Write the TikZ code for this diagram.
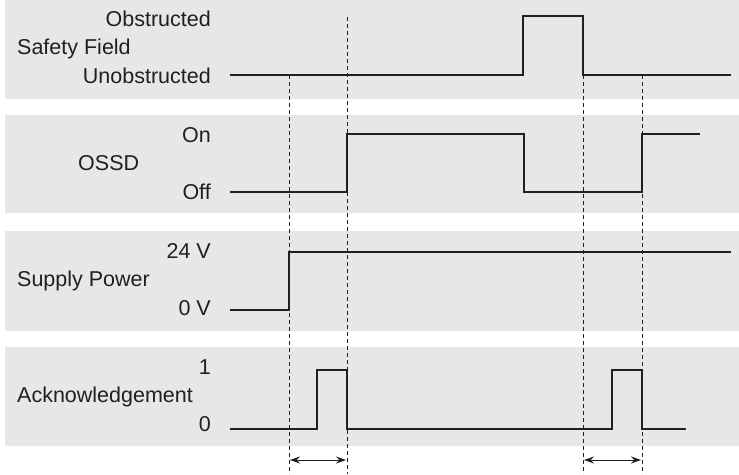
\documentclass[tikz,border=0pt]{standalone}
\usepackage{fontspec}
\setmainfont{Liberation Sans}
\usetikzlibrary{arrows.meta}
\definecolor{bandgray}{HTML}{E6E7E9}
\definecolor{sigcol}{HTML}{231F20}
\tikzset{
  band/.style={fill=bandgray, draw=none},
  sig/.style={draw=sigcol, line width=2pt, line join=miter},
  guide/.style={draw=sigcol, line width=0.9pt, dash pattern=on 4pt off 3pt},
  lbl/.style={inner sep=0pt, font=\fontsize{21.5}{26}\selectfont, text=sigcol},
  lblr/.style={lbl, anchor=base east},
  lbll/.style={lbl, anchor=base west},
  span/.style={draw=sigcol, line width=1pt, {Stealth[length=10pt,width=7pt]}-{Stealth[length=10pt,width=7pt]}}
}
\begin{document}
\begin{tikzpicture}[x=1pt,y=-1pt]
\useasboundingbox (0,0) rectangle (739,474);
% bands
\fill[band] (5,0) rectangle (739,99);
\fill[band] (5,115) rectangle (739,213);
\fill[band] (5,231) rectangle (739,331);
\fill[band] (5,347) rectangle (739,446);
% guides
\coordinate (g1t) at (289,75);  \coordinate (g1b) at (289,474);
\coordinate (g2t) at (347,17);  \coordinate (g2b) at (347,474);
\coordinate (g3t) at (583,75);  \coordinate (g3b) at (583,474);
\coordinate (g4t) at (642,75);  \coordinate (g4b) at (642,474);
\draw[guide] (g1t) -- (g1b);
\draw[guide] (g2t) -- (g2b);
\draw[guide] (g3t) -- (g3b);
\draw[guide] (g4t) -- (g4b);
% signals
\draw[sig] (230,75) -- (523,75) -- (523,16) -- (583,16) -- (583,75) -- (731,75);
\draw[sig] (230,192) -- (347,192) -- (347,134) -- (524,134) -- (524,192) -- (642,192) -- (642,134) -- (700,134);
\draw[sig] (230,310) -- (289,310) -- (289,252) -- (731,252);
\draw[sig] (230,429) -- (317,429) -- (317,370) -- (347,370) -- (347,429) -- (612,429) -- (612,370) -- (642,370) -- (642,429) -- (686,429);
% labels
\node[lblr] (obs) at (211,26) {Obstructed};
\node[lbll] (sf) at (17,54) {Safety Field};
\node[lblr] (unobs) at (211,83) {Unobstructed};
\node[lblr] (on) at (211,142) {On};
\node[lbll] (ossd) at (78,170) {OSSD};
\node[lblr] (off) at (211,199) {Off};
\node[lblr] (v24) at (211,258) {24 V};
\node[lbll] (sp) at (17,286) {Supply Power};
\node[lblr] (v0) at (211,315) {0 V};
\node[lblr] (a1) at (211,374) {1};
\node[lbll] (ack) at (17,402) {Acknowledgement};
\node[lblr] (a0) at (211,431) {0};
% spans
\coordinate (s1a) at (290,460); \coordinate (s1b) at (346,460);
\coordinate (s2a) at (584,460); \coordinate (s2b) at (641,460);
\draw[span] (s1a) -- (s1b);
\draw[span] (s2a) -- (s2b);
\end{tikzpicture}
\end{document}
